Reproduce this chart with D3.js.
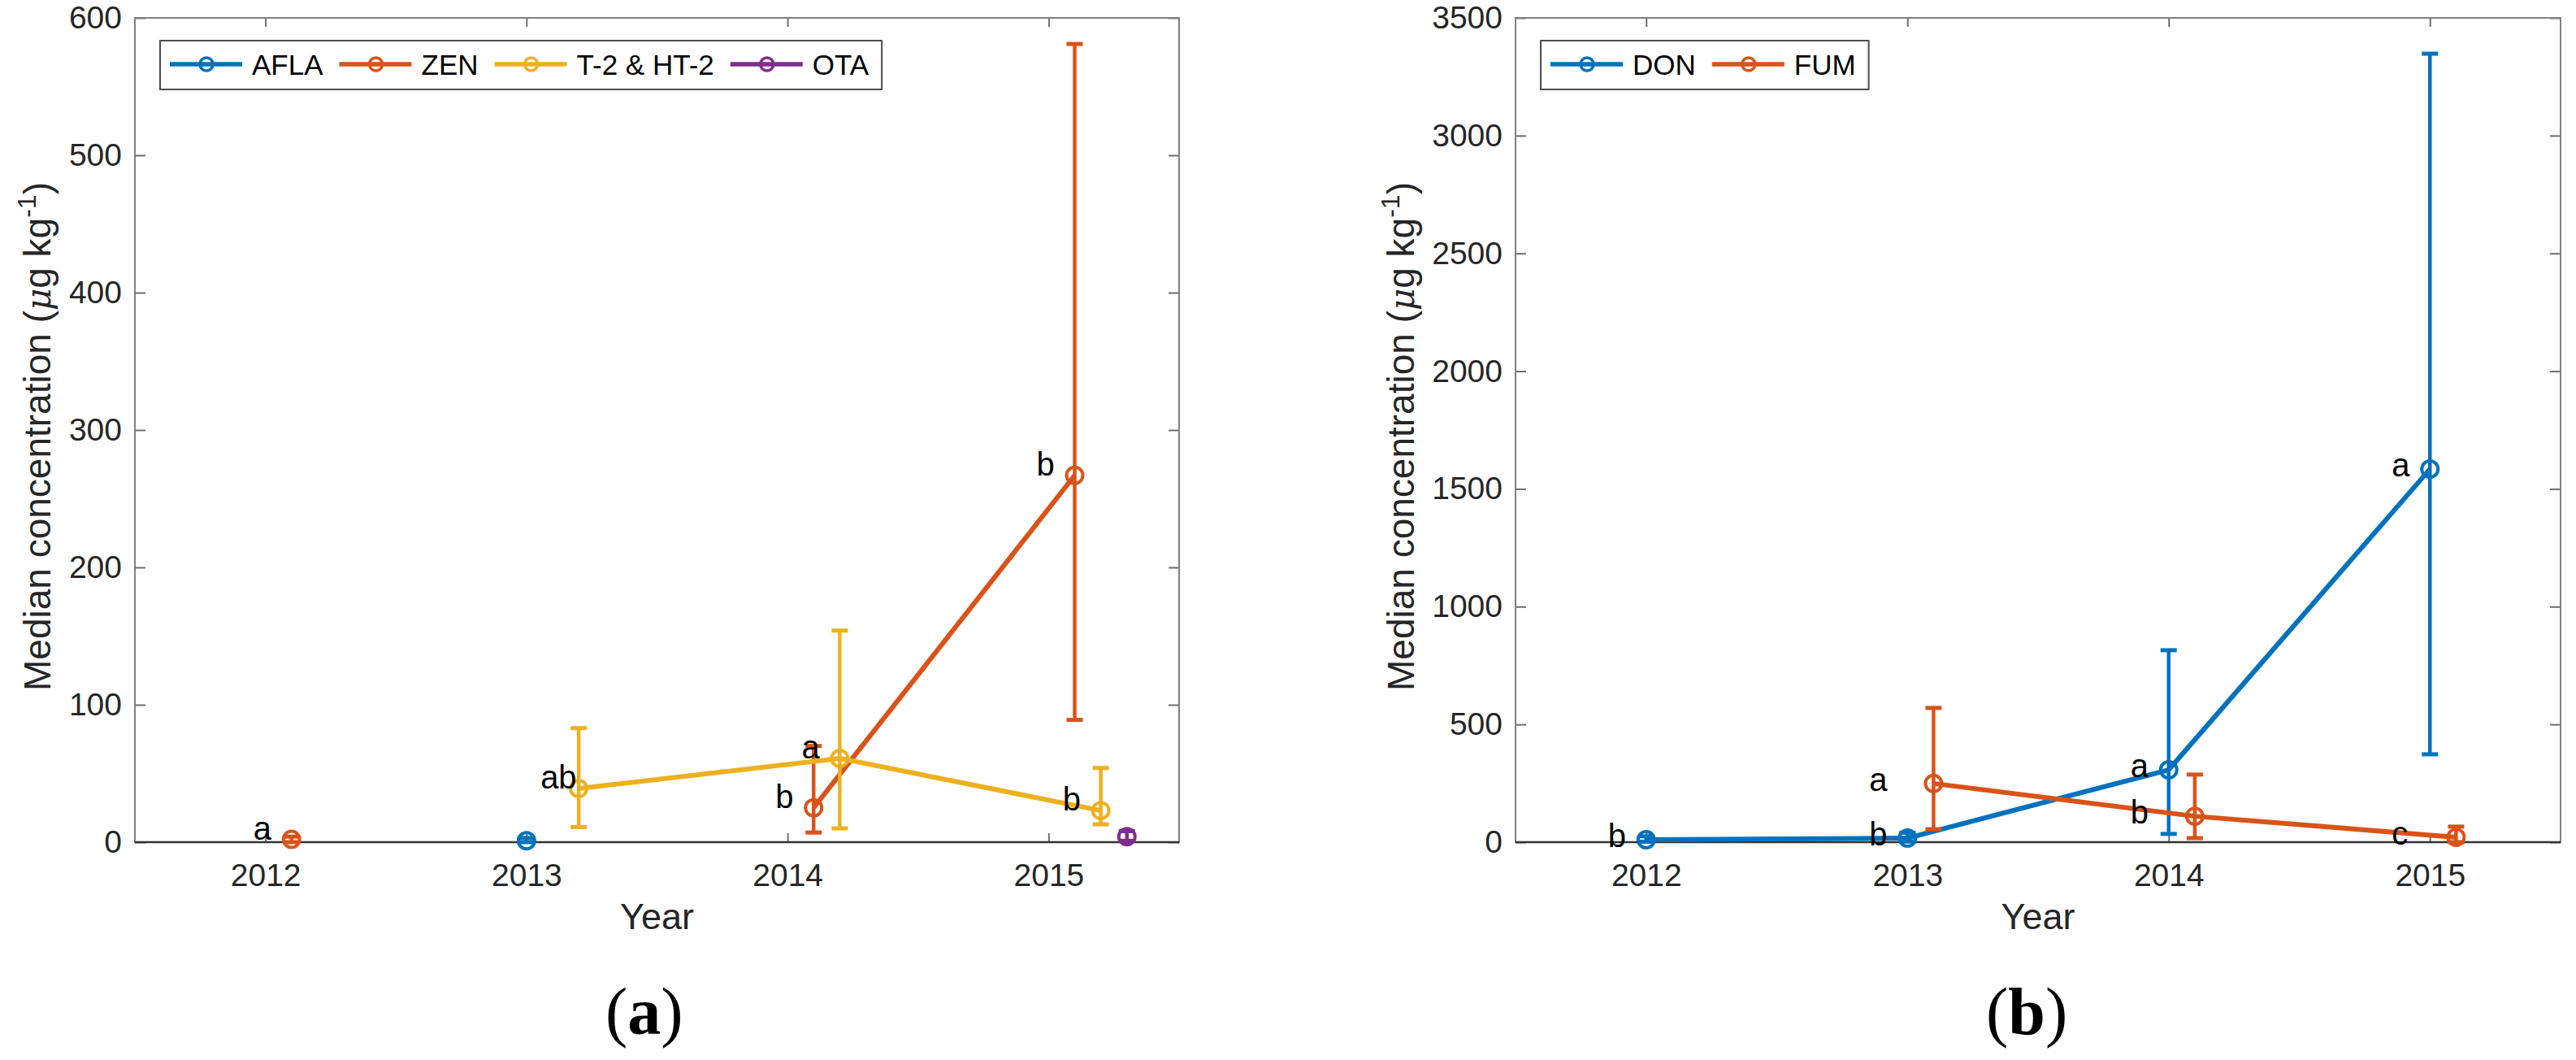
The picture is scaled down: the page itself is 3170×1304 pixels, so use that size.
<!DOCTYPE html>
<html>
<head>
<meta charset="utf-8">
<script src="https://cdn.jsdelivr.net/npm/d3@7"></script>
<style>
body { margin: 0; background: #fff; }
text { font-family: "Liberation Sans", Helvetica, Arial, sans-serif; }
</style>
</head>
<body>
<div class="demo"></div>
<script>
const w = 3170, h = 1304, plotTop = 22, plotBottom = 1036;

const years = [2012, 2013, 2014, 2015];

// panel (a)
const aflaMedian = [null, 1, null, null];
const aflaLow    = [null, 0, null, null];
const aflaHigh   = [null, 3, null, null];
const aflaLetters = [null, null, null, null];

const zenMedian = [2, null, 25, 267];
const zenLow    = [0, null, 7, 89];
const zenHigh   = [4, null, 70, 581];
const zenLetters = ['a', null, 'b', 'b'];

const t2Median = [null, 39, 61, 23];
const t2Low    = [null, 11, 10, 13];
const t2High   = [null, 83, 154, 54];
const t2Letters = [null, 'ab', 'a', 'b'];

const otaMedian = [null, null, null, 4];
const otaLow    = [null, null, null, 1];
const otaHigh   = [null, null, null, 8];
const otaLetters = [null, null, null, null];

// panel (b)
const donMedian = [10, 17, 307, 1584];
const donLow    = [2, 3, 35, 373];
const donHigh   = [25, 40, 815, 3348];
const donLetters = ['b', 'b', 'a', 'a'];

const fumMedian = [null, 249, 110, 21];
const fumLow    = [null, 55, 17, 0];
const fumHigh   = [null, 570, 287, 66];
const fumLetters = [null, 'a', 'b', 'c'];

const blue = '#0072BD', orange = '#D95319', yellow = '#EDB120', purple = '#7E2F8E';

function mk(name, color, median, low, high, letters, shift, letterShift) {
    return {name: name, color: color, shift: shift, letterShift: letterShift,
        pts: median.map(function(v, i){
            return {year: years[i], v: v, lo: low[i], hi: high[i], letter: letters[i]};
        })};
}

const panels = [
    {left: 166, right: 1451, yMax: 600, step: 100, labelX: 62, caption: 'a', captionX: 745,
     legendX: 197, letterDy: 0,
     series: [mk('AFLA', blue, aflaMedian, aflaLow, aflaHigh, aflaLetters, 0, 0),
              mk('ZEN', orange, zenMedian, zenLow, zenHigh, zenLetters, 0.1, 0.1),
              mk('T-2 & HT-2', yellow, t2Median, t2Low, t2High, t2Letters, 0.2, 0.2),
              mk('OTA', purple, otaMedian, otaLow, otaHigh, otaLetters, 0.3, 0.3)]},
    {left: 1865, right: 3151, yMax: 3500, step: 500, labelX: 1740, caption: 'b', captionX: 2444,
     legendX: 1896, letterDy: 9,
     series: [mk('DON', blue, donMedian, donLow, donHigh, donLetters, 0, 0),
              mk('FUM', orange, fumMedian, fumLow, fumHigh, fumLetters, 0.1, 0)]}
];

let svg = d3.select('.demo').append('svg').attr('width', w).attr('height', h);
svg.append('rect').attr('width', w).attr('height', h).attr('fill', '#fff');

panels.forEach(function(p) {
    let xScale = d3.scaleLinear().domain([2011.5, 2015.5]).range([p.left, p.right]);
    let yScale = d3.scaleLinear().domain([0, p.yMax]).range([plotBottom, plotTop]);
    let yTicks = d3.range(0, p.yMax + 1, p.step);

    let g = svg.append('g');

    // axes (MATLAB style: inward ticks, mirrored on top/right)
    let xAxis = d3.axisBottom(xScale).tickValues(years).tickFormat(d3.format('d'))
        .tickSize(-11).tickSizeOuter(0).tickPadding(26);
    let yAxis = d3.axisLeft(yScale).tickValues(yTicks).tickFormat(d3.format('d'))
        .tickSize(-13).tickSizeOuter(0).tickPadding(16);
    let xTop = d3.axisTop(xScale).tickValues(years).tickFormat('').tickSize(-11).tickSizeOuter(0);
    let yRight = d3.axisRight(yScale).tickValues(yTicks).tickFormat('').tickSize(-13).tickSizeOuter(0);

    [[xAxis, 'translate(0,' + plotBottom + ')'], [yAxis, 'translate(' + p.left + ',0)'],
     [xTop, 'translate(0,' + plotTop + ')'], [yRight, 'translate(' + p.right + ',0)']].forEach(function(a) {
        let ax = g.append('g').attr('transform', a[1]).call(a[0]);
        ax.select('.domain').remove();
        ax.selectAll('line').attr('stroke', '#6e6e6e').attr('stroke-width', 2);
        ax.selectAll('text').attr('font-size', 39).attr('fill', '#262626')
          .style('font-family', '"Liberation Sans", Helvetica, Arial, sans-serif');
    });

    g.append('rect').attr('x', p.left).attr('y', plotTop)
        .attr('width', p.right - p.left).attr('height', plotBottom - plotTop)
        .attr('fill', 'none').attr('stroke', '#808080').attr('stroke-width', 2);
    g.append('line').attr('x1', p.left).attr('x2', p.right).attr('y1', plotBottom).attr('y2', plotBottom)
        .attr('stroke', '#333').attr('stroke-width', 2.5);

    // axis labels
    g.append('text').attr('x', (p.left + p.right) / 2).attr('y', 1143)
        .attr('text-anchor', 'middle').attr('font-size', 45).attr('fill', '#262626').text('Year');

    let yl = g.append('text').attr('transform', 'translate(' + p.labelX + ',' + ((plotTop + plotBottom) / 2 + 8) + ') rotate(-90)')
        .attr('text-anchor', 'middle').attr('font-size', 46).attr('fill', '#262626');
    yl.append('tspan').text('Median concentration (');
    yl.append('tspan').attr('font-style', 'italic').style('font-family', '"DejaVu Serif", serif').attr('font-size', 42).text('\u03bc');
    yl.append('tspan').text('g kg');
    yl.append('tspan').attr('font-size', 32).attr('dy', -18).text('-1');
    yl.append('tspan').attr('dy', 18).text(')');

    // data
    let line = d3.line()
        .defined(function(d){ return d.v != null; })
        .x(function(d){ return d.x; })
        .y(function(d){ return yScale(d.v); });

    p.series.forEach(function(s) {
        let pts = s.pts.map(function(d){ return Object.assign({x: xScale(d.year + s.shift)}, d); });
        let sg = g.append('g');
        sg.append('path').attr('d', line(pts)).attr('fill', 'none')
            .attr('stroke', s.color).attr('stroke-width', 6).attr('stroke-linejoin', 'round');

        let eb = pts.filter(function(d){ return d.v != null && d.lo != null; });
        sg.selectAll('.eb').data(eb).enter().append('line')
            .attr('x1', function(d){ return d.x; }).attr('x2', function(d){ return d.x; })
            .attr('y1', function(d){ return yScale(d.lo); }).attr('y2', function(d){ return yScale(d.hi); })
            .attr('stroke', s.color).attr('stroke-width', 4.5);
        ['lo', 'hi'].forEach(function(k) {
            sg.selectAll('.cap-' + k).data(eb).enter().append('line')
                .attr('x1', function(d){ return d.x - 10; }).attr('x2', function(d){ return d.x + 10; })
                .attr('y1', function(d){ return yScale(d[k]); }).attr('y2', function(d){ return yScale(d[k]); })
                .attr('stroke', s.color).attr('stroke-width', 5);
        });

        sg.selectAll('circle').data(pts.filter(function(d){ return d.v != null; })).enter()
            .append('circle')
            .attr('cx', function(d){ return d.x; })
            .attr('cy', function(d){ return yScale(d.v); })
            .attr('r', 10).attr('fill', 'none').attr('stroke', s.color).attr('stroke-width', 4);
    });

    // significance letters
    p.series.forEach(function(s) {
        g.selectAll(null).data(s.pts.filter(function(d){ return d.letter; })).enter()
            .append('text')
            .attr('x', function(d){ return xScale(d.year + s.letterShift) - 47; })
            .attr('y', function(d){ return yScale(d.v) + p.letterDy; })
            .attr('font-size', 40).attr('fill', '#000')
            .text(function(d){ return d.letter; });
    });

    // legend
    let lg = g.append('g');
    let box = lg.append('rect').attr('x', p.legendX).attr('y', 50).attr('height', 60)
        .attr('fill', '#fff').attr('stroke', '#4d4d4d').attr('stroke-width', 2);
    let cx = p.legendX + 12;
    p.series.forEach(function(s) {
        lg.append('line').attr('x1', cx).attr('x2', cx + 89).attr('y1', 79).attr('y2', 79)
            .attr('stroke', s.color).attr('stroke-width', 5.5);
        lg.append('circle').attr('cx', cx + 45).attr('cy', 79).attr('r', 8)
            .attr('fill', 'none').attr('stroke', s.color).attr('stroke-width', 3.5);
        let t = lg.append('text').attr('x', cx + 101).attr('y', 92).attr('font-size', 35)
            .attr('fill', '#000').text(s.name);
        cx = cx + 101 + t.node().getComputedTextLength() + 20;
    });
    box.attr('width', cx - p.legendX - 4);

    // caption
    let cap = svg.append('text').attr('x', p.captionX).attr('y', 1272).attr('font-size', 82)
        .style('font-family', '"Liberation Serif", "Times New Roman", serif').attr('fill', '#000');
    cap.append('tspan').text('(');
    cap.append('tspan').attr('font-weight', 'bold').text(p.caption);
    cap.append('tspan').text(')');
});
</script>
</body>
</html>
